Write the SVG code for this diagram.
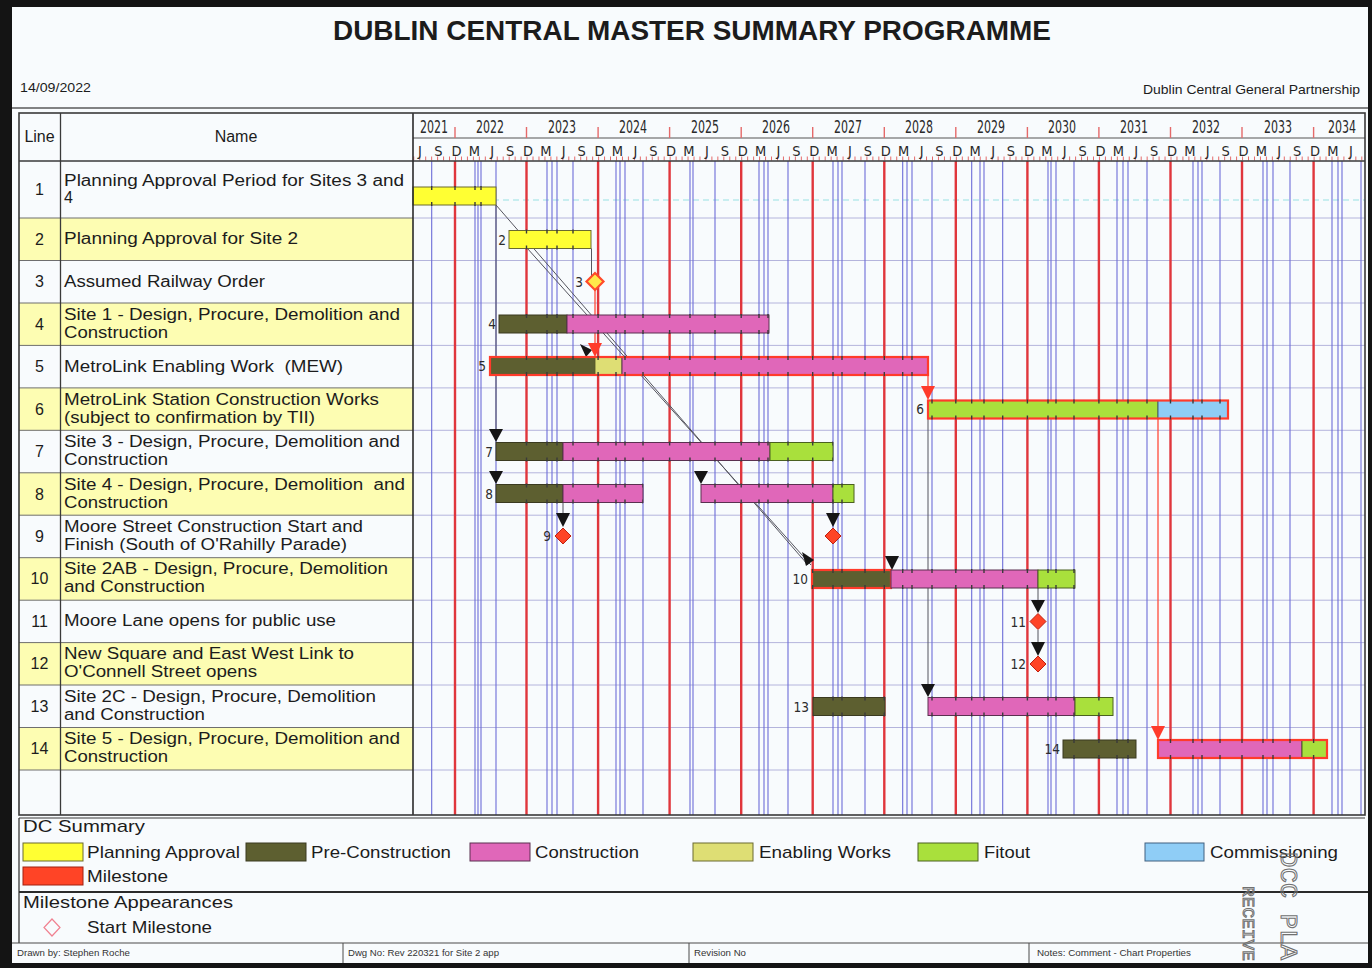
<svg xmlns="http://www.w3.org/2000/svg" width="1372" height="968" viewBox="0 0 1372 968">
  <style>
    .sans { font-family: "Liberation Sans", Arial, sans-serif; fill: #1c1c1c; }
    .cond { font-family: "DejaVu Sans Condensed", "Liberation Sans Narrow", "Liberation Sans", sans-serif; font-stretch: condensed; fill: #2a2a2a; }
    .row { font-size: 16px; }
    .num { font-size: 16px; text-anchor: middle; }
    .lbl { font-family: "DejaVu Sans Condensed", "Liberation Sans", sans-serif; font-size: 13.5px; fill: #2c2c2c; text-anchor: end; }
    .leg { font-size: 17px; }
    .foot { font-size: 9px; fill: #333; }
    .yr { stroke: #e0363c; stroke-width: 2.4; }
    .bl { stroke: #6c6cd8; stroke-width: 1.1; }
    .hg { stroke: #b4b4dc; stroke-width: 1; }
    .tl { stroke: #6e6e6e; stroke-width: 1; }
    .pa { fill: #ffff33; stroke: #6a6a30; stroke-width: 1; }
    .pc { fill: #5d5f30; stroke: #3a3a20; stroke-width: 1; }
    .co { fill: #e067b9; stroke: #5a3050; stroke-width: 1; }
    .ew { fill: #dede74; stroke: #6a6a30; stroke-width: 1; }
    .fo { fill: #a9e03c; stroke: #4a6020; stroke-width: 1; }
    .cm { fill: #8fcdf6; stroke: #406080; stroke-width: 1; }
    .crit { fill: none; stroke: #ff3b2b; stroke-width: 2.2; }
    .ms { fill: #ff4426; stroke: #c02010; stroke-width: 1; }
    .link { stroke: #55555f; stroke-width: 1; fill: none; }
    .rlink { stroke: #ff4a3a; stroke-width: 1.3; fill: none; }
    .ah { fill: #151515; }
    .rah { fill: #ff3b2b; }
    .stamp { font-family: "Liberation Mono", "DejaVu Sans Mono", monospace; fill: none; stroke: #707070; stroke-width: 1; }
  </style>
  <defs>
    <pattern id="monthTicks" patternUnits="userSpaceOnUse" x="455" y="0" width="5.9625" height="968">
      <rect x="0" y="0" width="1" height="968" fill="#e46a6a"/>
    </pattern>
    <!-- reveal grid-line crossings only along bar edges -->
    <mask id="edgeMask" maskUnits="userSpaceOnUse" x="0" y="0" width="1372" height="968">
      <rect x="0" y="0" width="1372" height="968" fill="#000"/>
      <g fill="#fff">
        <rect x="413" y="186" width="83" height="4"/><rect x="413" y="202" width="83" height="4"/>
        <rect x="509" y="229.5" width="82" height="4"/><rect x="509" y="245.5" width="82" height="4"/>
        <rect x="499" y="314" width="270" height="4"/><rect x="499" y="330" width="270" height="4"/>
        <rect x="490" y="356" width="438" height="4"/><rect x="490" y="372" width="438" height="4"/>
        <rect x="928" y="399.5" width="300" height="4"/><rect x="928" y="415.5" width="300" height="4"/>
        <rect x="496" y="441.5" width="337" height="4"/><rect x="496" y="457.5" width="337" height="4"/>
        <rect x="496" y="483.5" width="147" height="4"/><rect x="496" y="499.5" width="147" height="4"/>
        <rect x="701" y="483.5" width="153" height="4"/><rect x="701" y="499.5" width="153" height="4"/>
        <rect x="812" y="569" width="263" height="4"/><rect x="812" y="585" width="263" height="4"/>
        <rect x="813" y="696.5" width="72" height="4"/><rect x="813" y="712.5" width="72" height="4"/>
        <rect x="928" y="696.5" width="185" height="4"/><rect x="928" y="712.5" width="185" height="4"/>
        <rect x="1063" y="739" width="73" height="4"/><rect x="1063" y="755" width="73" height="4"/>
        <rect x="1158" y="739" width="169" height="4"/><rect x="1158" y="755" width="169" height="4"/>
      </g>
    </mask>
  </defs>

  <!-- sheet -->
  <rect x="0" y="0" width="1372" height="968" fill="#f8fbfd"/>

  <!-- title block -->
  <g id="title">
    <text class="sans" x="692" y="40" font-size="27" font-weight="bold" text-anchor="middle" textLength="718" lengthAdjust="spacingAndGlyphs" fill="#262626">DUBLIN CENTRAL MASTER SUMMARY PROGRAMME</text>
    <text class="sans" x="20" y="92" font-size="13" textLength="71" lengthAdjust="spacingAndGlyphs">14/09/2022</text>
    <text class="sans" x="1360" y="94" font-size="13" text-anchor="end" textLength="217" lengthAdjust="spacingAndGlyphs">Dublin Central General Partnership</text>
    <line x1="12" y1="108" x2="1368" y2="108" stroke="#5a5a5a" stroke-width="1.5"/>
  </g>

  <!-- table rows (left) -->
  <g id="table-rows">
    <rect x="19" y="161" width="394" height="57" fill="#f8fbfd"/>
    <rect x="19" y="218" width="394" height="42.46" fill="#fdfdb2"/>
    <rect x="19" y="303" width="394" height="42.46" fill="#fdfdb2"/>
    <rect x="19" y="387.9" width="394" height="42.46" fill="#fdfdb2"/>
    <rect x="19" y="472.8" width="394" height="42.46" fill="#fdfdb2"/>
    <rect x="19" y="557.7" width="394" height="42.46" fill="#fdfdb2"/>
    <rect x="19" y="642.6" width="394" height="42.46" fill="#fdfdb2"/>
    <rect x="19" y="727.5" width="394" height="42.5" fill="#fdfdb2"/>
  </g>

  <!-- timescale -->
  <g id="timescale">
    <rect x="413" y="113" width="952" height="48" fill="#f8fbfd"/>
    <line x1="413" y1="138" x2="1365" y2="138" stroke="#555" stroke-width="1.2"/>
    <rect x="413" y="156.5" width="952" height="4" fill="url(#monthTicks)"/>
    <g stroke="#e46a6a" stroke-width="1.4">
      <line x1="455" y1="127" x2="455" y2="138"/><line x1="526.5" y1="127" x2="526.5" y2="138"/>
      <line x1="598.1" y1="127" x2="598.1" y2="138"/><line x1="669.6" y1="127" x2="669.6" y2="138"/>
      <line x1="741.2" y1="127" x2="741.2" y2="138"/><line x1="812.7" y1="127" x2="812.7" y2="138"/>
      <line x1="884.3" y1="127" x2="884.3" y2="138"/><line x1="955.8" y1="127" x2="955.8" y2="138"/>
      <line x1="1027.4" y1="127" x2="1027.4" y2="138"/><line x1="1098.9" y1="127" x2="1098.9" y2="138"/>
      <line x1="1170.5" y1="127" x2="1170.5" y2="138"/><line x1="1242" y1="127" x2="1242" y2="138"/>
      <line x1="1313.6" y1="127" x2="1313.6" y2="138"/>
    </g>
    <g class="cond" font-size="17" text-anchor="middle">
      <text x="434" y="133" textLength="28" lengthAdjust="spacingAndGlyphs">2021</text>
      <text x="490" y="133" textLength="28" lengthAdjust="spacingAndGlyphs">2022</text>
      <text x="562" y="133" textLength="28" lengthAdjust="spacingAndGlyphs">2023</text>
      <text x="633" y="133" textLength="28" lengthAdjust="spacingAndGlyphs">2024</text>
      <text x="705" y="133" textLength="28" lengthAdjust="spacingAndGlyphs">2025</text>
      <text x="776" y="133" textLength="28" lengthAdjust="spacingAndGlyphs">2026</text>
      <text x="848" y="133" textLength="28" lengthAdjust="spacingAndGlyphs">2027</text>
      <text x="919" y="133" textLength="28" lengthAdjust="spacingAndGlyphs">2028</text>
      <text x="991" y="133" textLength="28" lengthAdjust="spacingAndGlyphs">2029</text>
      <text x="1062" y="133" textLength="28" lengthAdjust="spacingAndGlyphs">2030</text>
      <text x="1134" y="133" textLength="28" lengthAdjust="spacingAndGlyphs">2031</text>
      <text x="1206" y="133" textLength="28" lengthAdjust="spacingAndGlyphs">2032</text>
      <text x="1278" y="133" textLength="28" lengthAdjust="spacingAndGlyphs">2033</text>
      <text x="1342" y="133" textLength="28" lengthAdjust="spacingAndGlyphs">2034</text>
    </g>
    <g class="cond" font-size="14.5" text-anchor="middle">
      <text x="420" y="156">J</text><text x="438.5" y="156">S</text>
      <text x="456.5" y="156">D</text><text x="474.4" y="156">M</text><text x="492.3" y="156">J</text><text x="510.2" y="156">S</text>
      <text x="528" y="156">D</text><text x="545.9" y="156">M</text><text x="563.8" y="156">J</text><text x="581.7" y="156">S</text>
      <text x="599.6" y="156">D</text><text x="617.5" y="156">M</text><text x="635.4" y="156">J</text><text x="653.3" y="156">S</text>
      <text x="671.1" y="156">D</text><text x="689" y="156">M</text><text x="706.9" y="156">J</text><text x="724.8" y="156">S</text>
      <text x="742.7" y="156">D</text><text x="760.6" y="156">M</text><text x="778.5" y="156">J</text><text x="796.4" y="156">S</text>
      <text x="814.2" y="156">D</text><text x="832.1" y="156">M</text><text x="850" y="156">J</text><text x="867.9" y="156">S</text>
      <text x="885.8" y="156">D</text><text x="903.7" y="156">M</text><text x="921.6" y="156">J</text><text x="939.5" y="156">S</text>
      <text x="957.3" y="156">D</text><text x="975.2" y="156">M</text><text x="993.1" y="156">J</text><text x="1011" y="156">S</text>
      <text x="1028.9" y="156">D</text><text x="1046.8" y="156">M</text><text x="1064.7" y="156">J</text><text x="1082.6" y="156">S</text>
      <text x="1100.4" y="156">D</text><text x="1118.3" y="156">M</text><text x="1136.2" y="156">J</text><text x="1154.1" y="156">S</text>
      <text x="1172" y="156">D</text><text x="1189.9" y="156">M</text><text x="1207.8" y="156">J</text><text x="1225.7" y="156">S</text>
      <text x="1243.5" y="156">D</text><text x="1261.4" y="156">M</text><text x="1279.3" y="156">J</text><text x="1297.2" y="156">S</text>
      <text x="1315.1" y="156">D</text><text x="1333" y="156">M</text><text x="1350.9" y="156">J</text>
    </g>
  </g>

  <!-- chart grid -->
  <g id="grid">
    <g class="hg">
      <line x1="413" y1="218" x2="1365" y2="218"/><line x1="413" y1="260.5" x2="1365" y2="260.5"/>
      <line x1="413" y1="303" x2="1365" y2="303"/><line x1="413" y1="345.4" x2="1365" y2="345.4"/>
      <line x1="413" y1="387.9" x2="1365" y2="387.9"/><line x1="413" y1="430.3" x2="1365" y2="430.3"/>
      <line x1="413" y1="472.8" x2="1365" y2="472.8"/><line x1="413" y1="515.2" x2="1365" y2="515.2"/>
      <line x1="413" y1="557.7" x2="1365" y2="557.7"/><line x1="413" y1="600.2" x2="1365" y2="600.2"/>
      <line x1="413" y1="642.6" x2="1365" y2="642.6"/><line x1="413" y1="685" x2="1365" y2="685"/>
      <line x1="413" y1="727.5" x2="1365" y2="727.5"/><line x1="413" y1="770" x2="1365" y2="770"/>
    </g>
    <line x1="413" y1="200" x2="1365" y2="200" stroke="#c8eef0" stroke-width="2" stroke-dasharray="6 4"/>
    <g class="bl">
      <line x1="431.7" y1="161" x2="431.7" y2="815"/>
      <line x1="475" y1="161" x2="475" y2="815"/><line x1="478" y1="161" x2="478" y2="815"/><line x1="481" y1="161" x2="481" y2="815"/><line x1="496" y1="161" x2="496" y2="815"/>
      <line x1="547" y1="161" x2="547" y2="815"/><line x1="552" y1="161" x2="552" y2="815"/><line x1="557" y1="161" x2="557" y2="815"/><line x1="573" y1="161" x2="573" y2="815"/>
      <line x1="616" y1="161" x2="616" y2="815"/><line x1="620" y1="161" x2="620" y2="815"/><line x1="625" y1="161" x2="625" y2="815"/><line x1="643" y1="161" x2="643" y2="815"/>
      <line x1="690" y1="161" x2="690" y2="815"/><line x1="693" y1="161" x2="693" y2="815"/><line x1="715" y1="161" x2="715" y2="815"/>
      <line x1="759" y1="161" x2="759" y2="815"/><line x1="764" y1="161" x2="764" y2="815"/><line x1="768" y1="161" x2="768" y2="815"/><line x1="788" y1="161" x2="788" y2="815"/>
      <line x1="833" y1="161" x2="833" y2="815"/><line x1="838" y1="161" x2="838" y2="815"/><line x1="842" y1="161" x2="842" y2="815"/><line x1="865" y1="161" x2="865" y2="815"/>
      <line x1="902.7" y1="161" x2="902.7" y2="815"/><line x1="907" y1="161" x2="907" y2="815"/><line x1="912" y1="161" x2="912" y2="815"/><line x1="932" y1="161" x2="932" y2="815"/>
      <line x1="971.7" y1="161" x2="971.7" y2="815"/><line x1="980" y1="161" x2="980" y2="815"/><line x1="984" y1="161" x2="984" y2="815"/><line x1="1002.7" y1="161" x2="1002.7" y2="815"/>
      <line x1="1048" y1="161" x2="1048" y2="815"/><line x1="1051" y1="161" x2="1051" y2="815"/><line x1="1056" y1="161" x2="1056" y2="815"/><line x1="1074" y1="161" x2="1074" y2="815"/>
      <line x1="1117" y1="161" x2="1117" y2="815"/><line x1="1123" y1="161" x2="1123" y2="815"/><line x1="1128" y1="161" x2="1128" y2="815"/><line x1="1147" y1="161" x2="1147" y2="815"/>
      <line x1="1193" y1="161" x2="1193" y2="815"/><line x1="1198" y1="161" x2="1198" y2="815"/><line x1="1202" y1="161" x2="1202" y2="815"/><line x1="1220" y1="161" x2="1220" y2="815"/>
      <line x1="1263" y1="161" x2="1263" y2="815"/><line x1="1267" y1="161" x2="1267" y2="815"/><line x1="1273" y1="161" x2="1273" y2="815"/><line x1="1290" y1="161" x2="1290" y2="815"/>
      <line x1="1332" y1="161" x2="1332" y2="815"/><line x1="1338" y1="161" x2="1338" y2="815"/><line x1="1342" y1="161" x2="1342" y2="815"/><line x1="1361" y1="161" x2="1361" y2="815"/>
    </g>
    <g class="yr">
      <line x1="455" y1="161" x2="455" y2="815"/><line x1="526.5" y1="161" x2="526.5" y2="815"/>
      <line x1="598.1" y1="161" x2="598.1" y2="815"/><line x1="669.6" y1="161" x2="669.6" y2="815"/>
      <line x1="741.2" y1="161" x2="741.2" y2="815"/><line x1="812.7" y1="161" x2="812.7" y2="815"/>
      <line x1="884.3" y1="161" x2="884.3" y2="815"/><line x1="955.8" y1="161" x2="955.8" y2="815"/>
      <line x1="1027.4" y1="161" x2="1027.4" y2="815"/><line x1="1098.9" y1="161" x2="1098.9" y2="815"/>
      <line x1="1170.5" y1="161" x2="1170.5" y2="815"/><line x1="1242" y1="161" x2="1242" y2="815"/>
      <line x1="1313.6" y1="161" x2="1313.6" y2="815"/>
    </g>
  </g>

  <!-- dependency links -->
  <g id="connectors">
    <polyline class="link" points="496,205 808,565"/>
    <polyline class="link" points="527,248 811,565"/>
    <line class="link" x1="591.5" y1="248.5" x2="591.5" y2="277"/>
    <line class="rlink" x1="595" y1="290" x2="595" y2="345"/>
    <line class="link" x1="496" y1="205" x2="496" y2="430"/>
    <line class="link" x1="563" y1="502.5" x2="563" y2="514"/>
    <line class="link" x1="833" y1="502.5" x2="833" y2="514"/>
    <line class="rlink" x1="928" y1="375" x2="928" y2="388"/>
    <line class="rlink" x1="1158" y1="418.5" x2="1158" y2="728"/>
    <line class="link" x1="1038" y1="588" x2="1038" y2="600"/>
    <line class="link" x1="1038" y1="630" x2="1038" y2="642"/>
    <line class="link" x1="928" y1="418.5" x2="928" y2="685"/>
    <!-- arrowheads -->
    <path class="ah" d="M580,344 L592,350 L586,357 Z"/>
    <path class="ah" d="M802,552 L814,560 L806,566 Z"/>
    <path class="rah" d="M588,343 L602,343 L595,357 Z"/>
    <path class="rah" d="M921,386 L935,386 L928,400 Z"/>
    <path class="rah" d="M1151,726 L1165,726 L1158,740 Z"/>
    <path class="ah" d="M489,429 L503,429 L496,442 Z"/>
    <path class="ah" d="M489,471 L503,471 L496,484 Z"/>
    <path class="ah" d="M694,471 L708,471 L701,484 Z"/>
    <path class="ah" d="M556,513 L570,513 L563,527 Z"/>
    <path class="ah" d="M826,513 L840,513 L833,527 Z"/>
    <path class="ah" d="M885,556 L899,556 L892,570 Z"/>
    <path class="ah" d="M1031,600 L1045,600 L1038,613 Z"/>
    <path class="ah" d="M1031,642 L1045,642 L1038,656 Z"/>
    <path class="ah" d="M921,684 L935,684 L928,697 Z"/>
  </g>

  <!-- tasks -->
  <g id="task-1"><rect class="pa" x="413" y="187" width="83" height="18"/></g>
  <g id="task-2"><rect class="pa" x="509" y="230.5" width="82" height="18"/><text class="lbl" x="506" y="245">2</text></g>
  <g id="task-3"><path d="M595,273 L603.5,281.5 L595,290 L586.5,281.5 Z" fill="#ffe84a" stroke="#ff4a2a" stroke-width="2.2"/><text class="lbl" x="583" y="287">3</text></g>
  <g id="task-4"><rect class="pc" x="499" y="315" width="68" height="18"/><rect class="co" x="567" y="315" width="202" height="18"/><text class="lbl" x="496" y="329">4</text></g>
  <g id="task-5"><rect class="pc" x="490" y="357" width="105" height="18" stroke="none"/><rect class="ew" x="595" y="357" width="27" height="18" stroke="none"/><rect class="co" x="622" y="357" width="306" height="18" stroke="none"/><rect class="crit" x="490" y="357" width="438" height="18"/><text class="lbl" x="486" y="371">5</text></g>
  <g id="task-6"><rect class="fo" x="928" y="400.5" width="230" height="18" stroke="none"/><rect class="cm" x="1158" y="400.5" width="70" height="18" stroke="none"/><rect class="crit" x="928" y="400.5" width="300" height="18"/><text class="lbl" x="924" y="414">6</text></g>
  <g id="task-7"><rect class="pc" x="496" y="442.5" width="67" height="18"/><rect class="co" x="563" y="442.5" width="207" height="18"/><rect class="fo" x="770" y="442.5" width="63" height="18"/><text class="lbl" x="493" y="457">7</text></g>
  <g id="task-8"><rect class="pc" x="496" y="484.5" width="67" height="18"/><rect class="co" x="563" y="484.5" width="80" height="18"/><rect class="co" x="701" y="484.5" width="132" height="18"/><rect class="fo" x="833" y="484.5" width="21" height="18"/><text class="lbl" x="493" y="499">8</text></g>
  <g id="task-9"><path class="ms" d="M563,528 L571,536 L563,544 L555,536 Z"/><path class="ms" d="M833,528 L841,536 L833,544 L825,536 Z"/><text class="lbl" x="551" y="541">9</text></g>
  <g id="task-10"><rect class="pc" x="812" y="570" width="79" height="18" stroke="none"/><rect class="crit" x="812" y="570" width="79" height="18"/><rect class="co" x="891" y="570" width="147" height="18"/><rect class="fo" x="1038" y="570" width="37" height="18"/><text class="lbl" x="808" y="584">10</text></g>
  <g id="task-11"><path class="ms" d="M1038,613.5 L1046,621.5 L1038,629.5 L1030,621.5 Z"/><text class="lbl" x="1026" y="627">11</text></g>
  <g id="task-12"><path class="ms" d="M1038,656 L1046,664 L1038,672 L1030,664 Z"/><text class="lbl" x="1026" y="669">12</text></g>
  <g id="task-13"><rect class="pc" x="813" y="697.5" width="72" height="18"/><rect class="co" x="928" y="697.5" width="147" height="18"/><rect class="fo" x="1075" y="697.5" width="38" height="18"/><text class="lbl" x="809" y="712">13</text></g>
  <g id="task-14"><rect class="pc" x="1063" y="740" width="73" height="18"/><rect class="co" x="1158" y="740" width="144" height="18" stroke="none"/><rect class="fo" x="1302" y="740" width="25" height="18" stroke="none"/><rect class="crit" x="1158" y="740" width="169" height="18"/><text class="lbl" x="1060" y="754">14</text></g>

  <!-- grid crossings drawn over bar edges -->
  <g mask="url(#edgeMask)" stroke="#3a3a3a" stroke-width="1.4">
    <line x1="431.7" y1="161" x2="431.7" y2="815"/><line x1="455" y1="161" x2="455" y2="815"/>
    <line x1="475" y1="161" x2="475" y2="815"/><line x1="481" y1="161" x2="481" y2="815"/>
    <line x1="526.5" y1="161" x2="526.5" y2="815"/><line x1="547" y1="161" x2="547" y2="815"/><line x1="557" y1="161" x2="557" y2="815"/><line x1="573" y1="161" x2="573" y2="815"/>
    <line x1="598.1" y1="161" x2="598.1" y2="815"/><line x1="616" y1="161" x2="616" y2="815"/><line x1="625" y1="161" x2="625" y2="815"/><line x1="643" y1="161" x2="643" y2="815"/>
    <line x1="669.6" y1="161" x2="669.6" y2="815"/><line x1="690" y1="161" x2="690" y2="815"/><line x1="715" y1="161" x2="715" y2="815"/>
    <line x1="741.2" y1="161" x2="741.2" y2="815"/><line x1="759" y1="161" x2="759" y2="815"/><line x1="768" y1="161" x2="768" y2="815"/><line x1="788" y1="161" x2="788" y2="815"/>
    <line x1="812.7" y1="161" x2="812.7" y2="815"/><line x1="833" y1="161" x2="833" y2="815"/><line x1="842" y1="161" x2="842" y2="815"/><line x1="865" y1="161" x2="865" y2="815"/>
    <line x1="884.3" y1="161" x2="884.3" y2="815"/><line x1="902.7" y1="161" x2="902.7" y2="815"/><line x1="912" y1="161" x2="912" y2="815"/><line x1="932" y1="161" x2="932" y2="815"/>
    <line x1="955.8" y1="161" x2="955.8" y2="815"/><line x1="971.7" y1="161" x2="971.7" y2="815"/><line x1="984" y1="161" x2="984" y2="815"/><line x1="1002.7" y1="161" x2="1002.7" y2="815"/>
    <line x1="1027.4" y1="161" x2="1027.4" y2="815"/><line x1="1048" y1="161" x2="1048" y2="815"/><line x1="1056" y1="161" x2="1056" y2="815"/><line x1="1074" y1="161" x2="1074" y2="815"/>
    <line x1="1098.9" y1="161" x2="1098.9" y2="815"/><line x1="1117" y1="161" x2="1117" y2="815"/><line x1="1128" y1="161" x2="1128" y2="815"/><line x1="1147" y1="161" x2="1147" y2="815"/>
    <line x1="1170.5" y1="161" x2="1170.5" y2="815"/><line x1="1193" y1="161" x2="1193" y2="815"/><line x1="1202" y1="161" x2="1202" y2="815"/><line x1="1220" y1="161" x2="1220" y2="815"/>
    <line x1="1242" y1="161" x2="1242" y2="815"/><line x1="1263" y1="161" x2="1263" y2="815"/><line x1="1273" y1="161" x2="1273" y2="815"/><line x1="1290" y1="161" x2="1290" y2="815"/>
    <line x1="1313.6" y1="161" x2="1313.6" y2="815"/>
  </g>

  <!-- table frame and text -->
  <g id="table">
    <g class="tl">
      <line x1="19" y1="218" x2="413" y2="218"/><line x1="19" y1="260.5" x2="413" y2="260.5"/>
      <line x1="19" y1="303" x2="413" y2="303"/><line x1="19" y1="345.4" x2="413" y2="345.4"/>
      <line x1="19" y1="387.9" x2="413" y2="387.9"/><line x1="19" y1="430.3" x2="413" y2="430.3"/>
      <line x1="19" y1="472.8" x2="413" y2="472.8"/><line x1="19" y1="515.2" x2="413" y2="515.2"/>
      <line x1="19" y1="557.7" x2="413" y2="557.7"/><line x1="19" y1="600.2" x2="413" y2="600.2"/>
      <line x1="19" y1="642.6" x2="413" y2="642.6"/><line x1="19" y1="685" x2="413" y2="685"/>
      <line x1="19" y1="727.5" x2="413" y2="727.5"/><line x1="19" y1="770" x2="413" y2="770"/>
    </g>
    <line x1="19" y1="161" x2="1365" y2="161" stroke="#3a3a3a" stroke-width="1.5"/>
    <line x1="60.5" y1="113" x2="60.5" y2="815" stroke="#3a3a3a" stroke-width="1.3"/>
    <line x1="413" y1="113" x2="413" y2="815" stroke="#2a2a2a" stroke-width="1.6"/>
    <rect x="19" y="113" width="1346" height="702" fill="none" stroke="#3a3a3a" stroke-width="1.6"/>
    <text class="sans num" x="39.5" y="142">Line</text>
    <text class="sans num" x="236" y="142">Name</text>

    <g class="sans num">
      <text x="39.5" y="195">1</text><text x="39.5" y="244.7">2</text><text x="39.5" y="287.2">3</text>
      <text x="39.5" y="329.6">4</text><text x="39.5" y="372.1">5</text><text x="39.5" y="414.5">6</text>
      <text x="39.5" y="457">7</text><text x="39.5" y="499.5">8</text><text x="39.5" y="541.9">9</text>
      <text x="39.5" y="584.4">10</text><text x="39.5" y="626.8">11</text><text x="39.5" y="669.3">12</text>
      <text x="39.5" y="711.7">13</text><text x="39.5" y="754.2">14</text>
    </g>
    <g class="sans row">
      <text x="64" y="186" textLength="340" lengthAdjust="spacingAndGlyphs">Planning Approval Period for Sites 3 and</text>
      <text x="64" y="203">4</text>
      <text x="64" y="244.2" textLength="234" lengthAdjust="spacingAndGlyphs">Planning Approval for Site 2</text>
      <text x="64" y="286.7" textLength="201" lengthAdjust="spacingAndGlyphs">Assumed Railway Order</text>
      <text x="64" y="319.6" textLength="336" lengthAdjust="spacingAndGlyphs">Site 1 - Design, Procure, Demolition and</text>
      <text x="64" y="337.6" textLength="104" lengthAdjust="spacingAndGlyphs">Construction</text>
      <text x="64" y="371.6" textLength="279" lengthAdjust="spacingAndGlyphs" xml:space="preserve">MetroLink Enabling Work  (MEW)</text>
      <text x="64" y="404.5" textLength="315" lengthAdjust="spacingAndGlyphs">MetroLink Station Construction Works</text>
      <text x="64" y="422.5" textLength="251" lengthAdjust="spacingAndGlyphs">(subject to confirmation by TII)</text>
      <text x="64" y="447" textLength="336" lengthAdjust="spacingAndGlyphs">Site 3 - Design, Procure, Demolition and</text>
      <text x="64" y="465" textLength="104" lengthAdjust="spacingAndGlyphs">Construction</text>
      <text x="64" y="489.5" textLength="341" lengthAdjust="spacingAndGlyphs" xml:space="preserve">Site 4 - Design, Procure, Demolition  and</text>
      <text x="64" y="507.5" textLength="104" lengthAdjust="spacingAndGlyphs">Construction</text>
      <text x="64" y="531.9" textLength="299" lengthAdjust="spacingAndGlyphs">Moore Street Construction Start and</text>
      <text x="64" y="549.9" textLength="283" lengthAdjust="spacingAndGlyphs">Finish (South of O'Rahilly Parade)</text>
      <text x="64" y="574.4" textLength="324" lengthAdjust="spacingAndGlyphs">Site 2AB - Design, Procure, Demolition</text>
      <text x="64" y="592.4" textLength="141" lengthAdjust="spacingAndGlyphs">and Construction</text>
      <text x="64" y="626.3" textLength="272" lengthAdjust="spacingAndGlyphs">Moore Lane opens for public use</text>
      <text x="64" y="659.3" textLength="290" lengthAdjust="spacingAndGlyphs">New Square and East West Link to</text>
      <text x="64" y="677.3" textLength="193" lengthAdjust="spacingAndGlyphs">O'Connell Street opens</text>
      <text x="64" y="701.7" textLength="312" lengthAdjust="spacingAndGlyphs">Site 2C - Design, Procure, Demolition</text>
      <text x="64" y="719.7" textLength="141" lengthAdjust="spacingAndGlyphs">and Construction</text>
      <text x="64" y="744.2" textLength="336" lengthAdjust="spacingAndGlyphs">Site 5 - Design, Procure, Demolition and</text>
      <text x="64" y="762.2" textLength="104" lengthAdjust="spacingAndGlyphs">Construction</text>
    </g>
  </g>

  <!-- legend -->
  <g id="legend">
    <line x1="19" y1="818" x2="1365" y2="818" stroke="#3a3a3a" stroke-width="1.2"/>
    <line x1="19" y1="818" x2="19" y2="943" stroke="#3a3a3a" stroke-width="1.3"/>
    <line x1="19" y1="892" x2="1368" y2="892" stroke="#2a2a2a" stroke-width="2"/>
    <text class="sans leg" x="23" y="832" textLength="122" lengthAdjust="spacingAndGlyphs">DC Summary</text>
    <rect class="pa" x="23" y="843" width="60" height="18"/>
    <text class="sans leg" x="87" y="858" textLength="153" lengthAdjust="spacingAndGlyphs">Planning Approval</text>
    <rect class="pc" x="246" y="843" width="60" height="18"/>
    <text class="sans leg" x="311" y="858" textLength="140" lengthAdjust="spacingAndGlyphs">Pre-Construction</text>
    <rect class="co" x="470" y="843" width="60" height="18"/>
    <text class="sans leg" x="535" y="858" textLength="104" lengthAdjust="spacingAndGlyphs">Construction</text>
    <rect class="ew" x="693" y="843" width="60" height="18"/>
    <text class="sans leg" x="759" y="858" textLength="132" lengthAdjust="spacingAndGlyphs">Enabling Works</text>
    <rect class="fo" x="918" y="843" width="60" height="18"/>
    <text class="sans leg" x="984" y="858" textLength="46" lengthAdjust="spacingAndGlyphs">Fitout</text>
    <rect class="cm" x="1145" y="843" width="59" height="18"/>
    <text class="sans leg" x="1210" y="858" textLength="128" lengthAdjust="spacingAndGlyphs">Commissioning</text>
    <rect x="23" y="867" width="60" height="18" fill="#ff4426" stroke="#a02010" stroke-width="1"/>
    <text class="sans leg" x="87" y="882" textLength="81" lengthAdjust="spacingAndGlyphs">Milestone</text>
    <text class="sans leg" x="23" y="908" textLength="210" lengthAdjust="spacingAndGlyphs">Milestone Appearances</text>
    <path d="M52,919 L60,927.5 L52,936 L44,927.5 Z" fill="none" stroke="#f08090" stroke-width="1.2"/>
    <text class="sans leg" x="87" y="933" textLength="125" lengthAdjust="spacingAndGlyphs">Start Milestone</text>
  </g>

  <!-- footer -->
  <g id="footer">
    <line x1="12" y1="943" x2="1368" y2="943" stroke="#4a4a4a" stroke-width="1.2"/>
    <line x1="343" y1="943" x2="343" y2="963" stroke="#4a4a4a"/>
    <line x1="689" y1="943" x2="689" y2="963" stroke="#4a4a4a"/>
    <line x1="1029" y1="943" x2="1029" y2="963" stroke="#4a4a4a"/>
    <text class="sans foot" x="17" y="956" textLength="113" lengthAdjust="spacingAndGlyphs">Drawn by: Stephen Roche</text>
    <text class="sans foot" x="348" y="956" textLength="151" lengthAdjust="spacingAndGlyphs">Dwg No: Rev 220321 for Site 2 app</text>
    <text class="sans foot" x="694" y="956" textLength="52" lengthAdjust="spacingAndGlyphs">Revision No</text>
    <text class="sans foot" x="1037" y="956" textLength="154" lengthAdjust="spacingAndGlyphs">Notes: Comment - Chart Properties</text>
  </g>

  <!-- received stamp -->
  <g id="stamp">
    <text class="stamp" transform="translate(1281,852) rotate(90)" font-size="24" textLength="108" lengthAdjust="spacingAndGlyphs">DCC PLA</text>
    <text class="stamp" transform="translate(1243,886) rotate(90)" font-size="17" textLength="75" lengthAdjust="spacingAndGlyphs">RECEIVE</text>
  </g>

  <!-- sheet border -->
  <path d="M0,0 H1372 V968 H0 Z M12,7 V963 H1368 V7 Z" fill="#141414" fill-rule="evenodd"/>
</svg>
